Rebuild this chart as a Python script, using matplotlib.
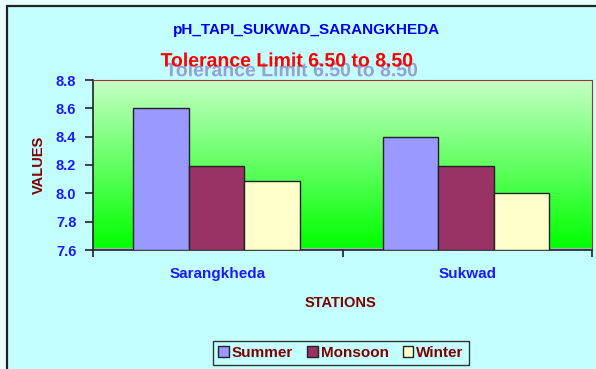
import matplotlib.pyplot as plt
import matplotlib.patheffects as pe
import numpy as np
from matplotlib.patches import Rectangle

stations = ['Sarangkheda', 'Sukwad']
seasons = ['Summer', 'Monsoon', 'Winter']
summer = [8.6, 8.4]
monsoon = [8.19, 8.19]
winter = [8.09, 8.0]
yticks = [7.6, 7.8, 8.0, 8.2, 8.4, 8.6, 8.8]

colors = ['#9999ff', '#993366', '#ffffcc']
bg = '#c4ffff'
font = 'Liberation Sans'

fig = plt.figure(figsize=(5.96, 3.69), dpi=100, facecolor='#eaffff')
# chart area box with black border on left/top
fig.patches.append(Rectangle((7/596, -0.1), 1.0, 1 - 6/369 + 0.1, transform=fig.transFigure,
                             facecolor=bg, edgecolor='#222222', linewidth=1.6, zorder=-10))

ax = fig.add_axes([93/596, 1 - 250/369, (592 - 93)/596, 170/369])
ax.set_facecolor('none')

# gradient background of plot area
grad = np.linspace(0, 1, 256).reshape(-1, 1)
top = np.array([0.78, 1.0, 0.78])
bot = np.array([0.0, 1.0, 0.0])
img = bot + (top - bot) * grad
img = img[:, None, :]
ax.imshow(img, extent=[-0.5, 1.5, 7.612, 8.8], origin='lower', aspect='auto', zorder=0)
ax.axhspan(7.6, 7.612, color='#a0b4b4', zorder=0)

x = np.arange(len(stations))
w = 0.223
for i, (vals, c, lab) in enumerate(zip([summer, monsoon, winter], colors, seasons)):
    ax.bar(x + (i - 1) * w - 0.005, np.array(vals) - 7.6, w, bottom=7.6, color=c,
           edgecolor='#222222', linewidth=1.0, label=lab, zorder=3)

ax.set_xlim(-0.5, 1.5)
ax.set_ylim(7.6, 8.8)
ax.set_yticks(yticks)
ax.set_yticklabels(['%.1f' % v for v in yticks], fontsize=10.5, fontweight='bold',
                   color='#1a1aff', family=font)
ax.set_xticks([0.5, 1.5], minor=False)
ax.set_xticks([-0.5], minor=True)
ax.set_xticklabels([])
ax.tick_params(axis='x', which='both', length=5, width=1.2, direction='out', color='#222222')
ax.tick_params(axis='y', length=6, width=1.2, direction='out', color='#222222', pad=6)
for i, s in enumerate(stations):
    ax.text(x[i], 7.6 - 0.17, s, ha='center', va='center', fontsize=11,
            fontweight='bold', color='#1a1aff', family=font)

ax.spines['left'].set_color('#222222')
ax.spines['left'].set_linewidth(1.2)
ax.spines['bottom'].set_color('#222222')
ax.spines['bottom'].set_linewidth(1.2)
ax.spines['top'].set_color('#993333')
ax.spines['right'].set_color('#993333')

ax.set_ylabel('VALUES', fontsize=10.5, fontweight='bold', color='#800000', family=font, labelpad=7)
fig.text(340/596, 1 - 303/369, 'STATIONS', ha='center', va='center', fontsize=10.5,
         fontweight='bold', color='#800000', family=font)

fig.text(306/596, 1 - 30/369, 'pH_TAPI_SUKWAD_SARANGKHEDA', ha='center', va='center',
         fontsize=11, fontweight='bold', color='#0000ee', family=font)
fig.text(287/596, 1 - 62/369, 'Tolerance Limit 6.50 to 8.50', ha='center', va='center',
         fontsize=14, fontweight='bold', color='#ff0000', family=font,
         path_effects=[pe.withSimplePatchShadow(offset=(3.5, -7), shadow_rgbFace='#8888cc', alpha=0.8)])

leg = fig.legend(loc='center', bbox_to_anchor=(341/596, 1 - 353/369), ncol=3,
                 handlelength=0.7, handleheight=0.7, handletextpad=0.2, columnspacing=0.9,
                 fancybox=False, edgecolor='#333333', facecolor=bg, framealpha=1,
                 borderpad=0.35, prop={'family': font, 'weight': 'bold', 'size': 11})
for t in leg.get_texts():
    t.set_color('#800000')

fig.savefig('out.png', dpi=100, facecolor=fig.get_facecolor())
